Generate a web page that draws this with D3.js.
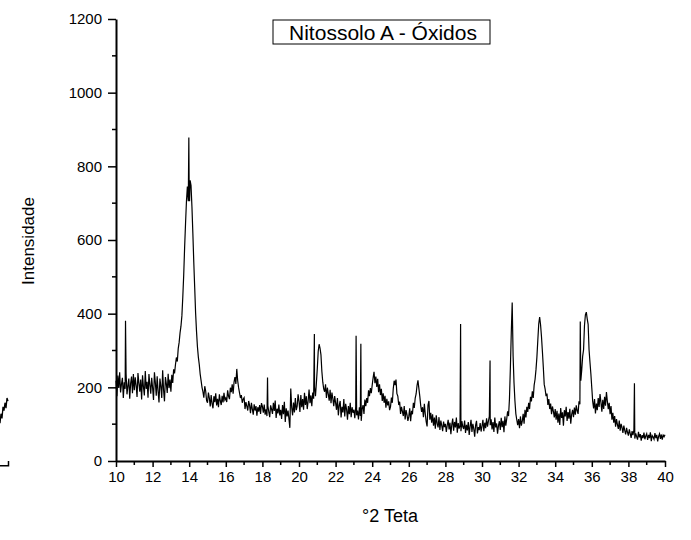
<!DOCTYPE html>
<html><head><meta charset="utf-8">
<script src="https://cdn.jsdelivr.net/npm/d3@7"></script>
<style>
html,body{margin:0;padding:0;background:#fff;}
text{font-family:"Liberation Sans",Arial,sans-serif;fill:#000;}
</style></head>
<body>
<svg id="chart" width="691" height="540"></svg>
<script>
// 2θ grid: start, step and intensities (one row per degree)
const xStart = 10.0;
const xStep = 0.05;
const intensity = [
  218,176,232,198,241,186,209,226,171,214,196,238,181,203,224,169,211,229,184,236,
  192,227,205,174,239,212,188,221,167,233,201,178,244,196,215,172,236,207,183,226,
  199,166,241,213,177,230,189,159,224,203,171,246,192,162,228,210,185,237,198,221,
  188,234,212,249,238,262,281,270,305,322,348,366,394,445,505,580,645,705,745,705,
  722,762,748,690,618,540,472,402,352,310,282,262,236,218,200,188,172,203,190,164,
  158,186,171,148,179,156,143,176,160,184,151,169,146,181,163,152,177,159,185,166,
  171,160,192,176,168,199,187,208,183,214,228,209,250,218,199,185,171,179,158,168,
  172,141,160,149,137,163,151,130,158,141,126,154,137,149,123,146,134,152,128,157,
  148,131,153,126,140,122,150,133,119,151,141,128,158,136,164,117,142,129,153,124,
  139,114,152,127,161,106,143,121,137,115,90,197,146,124,159,132,171,138,149,181,
  162,133,179,146,168,139,185,152,176,141,163,194,157,178,149,186,169,201,176,212,
  251,298,317,306,288,243,214,196,188,208,171,199,182,164,193,157,186,169,149,176,
  158,139,171,124,152,163,118,147,132,168,121,155,140,112,149,127,158,119,146,131,
  139,116,148,124,137,113,146,122,109,141,152,128,167,149,171,158,192,176,198,184,
  206,226,242,211,229,201,223,187,208,179,196,163,184,158,177,145,169,151,162,138,
  147,172,158,196,218,206,221,183,176,152,161,128,147,135,122,149,113,138,126,109,
  121,143,108,136,127,158,144,171,182,205,219,197,176,151,133,146,119,155,128,107,
  94,152,163,112,131,104,127,96,118,88,124,102,91,119,84,110,96,81,107,92,
  101,79,97,112,86,104,73,99,115,82,106,91,118,77,103,88,96,81,108,93,
  87,110,76,98,83,106,71,94,112,79,101,88,66,97,109,75,92,84,103,80,
  95,112,81,104,89,116,93,108,121,97,113,86,106,79,118,91,102,74,96,108,
  84,117,92,109,78,121,96,114,135,122,168,252,348,430,285,212,163,128,112,97,
  114,89,121,96,108,128,101,139,118,147,133,158,141,174,162,189,171,206,222,248,
  282,328,372,391,370,338,298,255,208,195,176,183,152,168,141,156,127,148,135,118,
  141,112,136,104,129,98,144,117,132,96,138,121,147,109,133,115,142,101,127,139,
  119,145,126,151,137,128,162,154,218,247,284,302,368,397,404,386,371,302,268,236,
  198,161,143,168,129,156,138,171,147,182,159,134,166,141,174,150,187,162,141,158,
  127,149,112,131,104,122,93,114,99,87,110,82,101,91,76,96,83,72,90,78,
  69,86,74,63,81,70,84,61,75,66,58,79,64,73,55,70,62,77,59,68,
  74,57,71,62,78,54,69,65,59,76,62,71,53,67,74,60,72,58,70,66,
  71
];
// narrow single-point spikes: position (°2θ) and intensity
const spikePos = [10.52, 13.98, 14.02, 18.28, 20.84, 23.12, 23.38, 28.83, 30.44, 35.37, 38.33];
const spikeVal = [381, 878, 705, 227, 345, 340, 318, 372, 273, 379, 211];

const xTicks = [10,12,14,16,18,20,22,24,26,28,30,32,34,36,38,40];
const xMinorTicks = [11,13,15,17,19,21,23,25,27,29,31,33,35,37,39];
const yTicks = [0,200,400,600,800,1000,1200];
const yMinorTicks = [100,300,500,700,900,1100];
const title = "Nitossolo A - Óxidos";
const xLabel = "°2 Teta";
const yLabel = "Intensidade";

// fragment of the neighbouring panel cut off at the left edge
const fragmentIdx = [0,1,2,3,4,5,6,7,8];
const fragmentVal = [120,150,135,172,160,185,168,200,190];

// build points
let pts = intensity.map((v,i)=>({x:+(xStart+i*xStep).toFixed(2), y:v}));
spikePos.forEach((p,i)=>pts.push({x:p, y:spikeVal[i]}));
pts.sort((a,b)=>a.x-b.x);

const svg = d3.select("#chart");
const x = d3.scaleLinear().domain([10,40]).range([116,665]);
const y = d3.scaleLinear().domain([0,1200]).range([461,19]);

const gx = svg.append("g").attr("transform",`translate(0,${y(0)})`);
gx.call(d3.axisBottom(x).tickValues(xTicks).tickFormat(d3.format("d")).tickSize(6).tickPadding(4).tickSizeOuter(0));
gx.append("g").selectAll("line").data(xMinorTicks).join("line")
  .attr("x1",d=>x(d)).attr("x2",d=>x(d)).attr("y1",0).attr("y2",4).attr("stroke","#000").attr("stroke-width",1.5);
const gy = svg.append("g").attr("transform",`translate(${x(10)},0)`);
gy.call(d3.axisLeft(y).tickValues(yTicks).tickFormat(d3.format("d")).tickSize(8).tickPadding(6).tickSizeOuter(0));
gy.append("g").selectAll("line").data(yMinorTicks).join("line")
  .attr("y1",d=>y(d)).attr("y2",d=>y(d)).attr("x1",0).attr("x2",-4).attr("stroke","#000").attr("stroke-width",1.5);

[gx,gy].forEach(g=>{
  g.select(".domain").attr("stroke","#000").attr("stroke-width",2);
  g.selectAll(".tick line").attr("stroke","#000").attr("stroke-width",1.5);
  g.selectAll(".tick text").style("font-size","15px").style("font-family","'Liberation Sans',Arial,sans-serif").attr("fill","#000");
});

// data line
const line = d3.line().x(d=>x(d.x)).y(d=>y(d.y));
svg.append("path").datum(pts).attr("d",line).attr("fill","none").attr("stroke","#000").attr("stroke-width",1.2).attr("stroke-linejoin","miter");

// neighbouring panel fragment
const fx = d3.scaleLinear().domain([0,8]).range([0,8]);
const fy = d3.scaleLinear().domain([0,200]).range([461,398]);
svg.append("path").datum(fragmentIdx.map((d,i)=>[d,fragmentVal[i]]))
  .attr("d",d3.line().x(d=>fx(d[0])).y(d=>fy(d[1]))).attr("fill","none").attr("stroke","#000").attr("stroke-width",1.3);
svg.append("path").attr("d",d3.line()([[fx(0),fy(-15)],[fx(8.5),fy(-15)],[fx(8.5),fy(0)]]))
  .attr("fill","none").attr("stroke","#000").attr("stroke-width",1.5);

// axis titles
svg.append("text").attr("x",390).attr("y",522).attr("text-anchor","middle").style("font-size","18px").text(xLabel);
svg.append("text").attr("transform","translate(34,241) rotate(-90)").attr("text-anchor","middle").style("font-size","17px").text(yLabel);

// title box
svg.append("rect").attr("x",273).attr("y",20).attr("width",217).attr("height",24).attr("fill","#fff").attr("stroke","#000").attr("stroke-width",1);
svg.append("text").attr("x",383).attr("y",39.5).attr("text-anchor","middle").style("font-size","21px").text(title);
</script>
</body></html>
